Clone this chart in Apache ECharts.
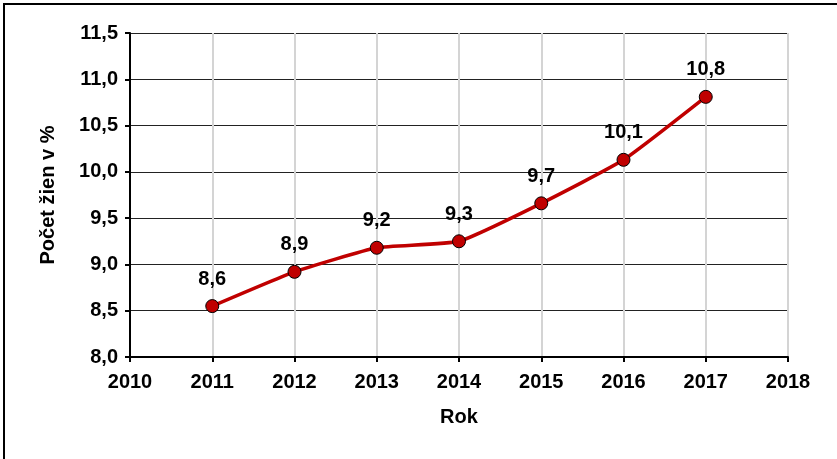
<!DOCTYPE html>
<html>
<head>
<meta charset="utf-8">
<script src="https://cdn.jsdelivr.net/npm/echarts@6/dist/echarts.min.js"></script>
<style>
  html, body { margin: 0; padding: 0; background: #fff; }
  #chart {
    position: absolute;
    left: 3px;
    top: 3px;
    width: 834px;
    height: 456px;
    border-left: 2px solid #000;
    border-top: 2px solid #000;
    box-sizing: border-box;
  }
</style>
</head>
<body>
<div id="chart"></div>
<script>
  // roky a podiel žien
  const years = [2011, 2012, 2013, 2014, 2015, 2016, 2017]
  const values = [8.55, 8.92, 9.18, 9.25, 9.66, 10.13, 10.81]
  const pointLabels = ['8,6', '8,9', '9,2', '9,3', '9,7', '10,1', '10,8']

  const font = 'Liberation Sans, Arial, sans-serif'
  let chartDom = echarts.init(document.getElementById('chart'))
  let option = {
    animation: false,
    grid: {
      left: 125,
      right: 49,
      top: 28,
      bottom: 102,
    },
    xAxis: {
      type: 'value',
      min: 2010,
      max: 2018,
      interval: 1,
      name: 'Rok',
      nameLocation: 'middle',
      nameGap: 50,
      nameTextStyle: {
        color: '#000',
        fontFamily: font,
        fontWeight: 'bold',
        fontSize: 20,
      },
      axisLabel: {
        color: '#000',
        fontFamily: font,
        fontWeight: 'bold',
        fontSize: 20,
        margin: 15,
        formatter: (v) => String(v),
      },
      axisLine: {
        show: true,
        onZero: false,
        lineStyle: { color: '#000', width: 2 },
      },
      axisTick: {
        show: true,
        length: 5,
        lineStyle: { color: '#000', width: 2 },
      },
      splitLine: {
        show: true,
        lineStyle: { color: '#d4d4d4', width: 2 },
      },
    },
    yAxis: {
      type: 'value',
      min: 8,
      max: 11.5,
      interval: 0.5,
      name: 'Počet žien v %',
      nameLocation: 'middle',
      nameGap: 72,
      nameTextStyle: {
        color: '#000',
        fontFamily: font,
        fontWeight: 'bold',
        fontSize: 20,
      },
      axisLabel: {
        color: '#000',
        fontFamily: font,
        fontWeight: 'bold',
        fontSize: 20,
        margin: 12,
        formatter: (v) => v.toFixed(1).replace('.', ','),
      },
      axisLine: {
        show: true,
        lineStyle: { color: '#000', width: 2 },
      },
      axisTick: {
        show: true,
        length: 5,
        lineStyle: { color: '#000', width: 2 },
      },
      splitLine: {
        show: true,
        lineStyle: { color: '#222', width: 1 },
      },
    },
    series: [
      {
        type: 'line',
        smooth: 0.15,
        symbol: 'circle',
        symbolSize: 13,
        itemStyle: {
          color: '#c00000',
          borderColor: '#000',
          borderWidth: 1,
        },
        lineStyle: {
          color: '#c00000',
          width: 3.5,
        },
        label: {
          show: true,
          position: 'top',
          distance: 10,
          color: '#000',
          fontFamily: font,
          fontWeight: 'bold',
          fontSize: 20,
          formatter: (p) => pointLabels[p.dataIndex],
        },
        data: years.map((y, i) => [y, values[i]]),
      },
    ],
  }
  chartDom.setOption(option)
</script>
</body>
</html>
